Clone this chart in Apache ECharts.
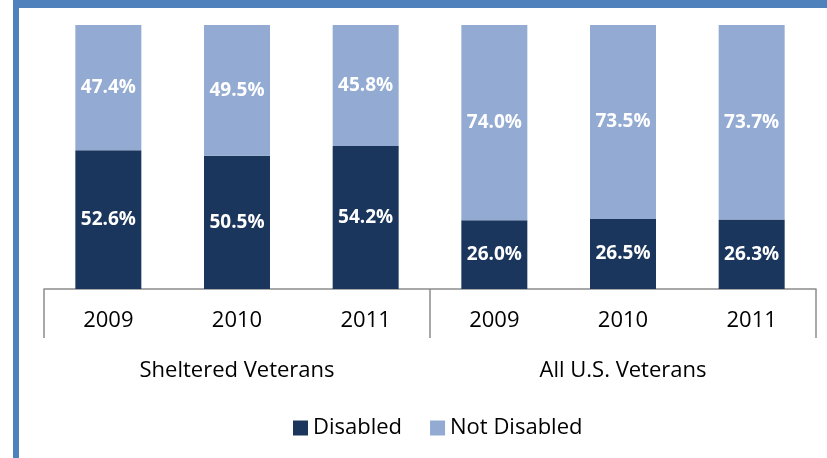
<!DOCTYPE html>
<html>
<head>
<meta charset="utf-8">
<script src="https://cdn.jsdelivr.net/npm/echarts@6/dist/echarts.min.js"></script>
<style>
  html, body { margin: 0; padding: 0; background: #fff; }
  #frame { position: absolute; left: 13px; top: 0; width: 814px; height: 458px;
    border-top: 8px solid #4F81BD; border-left: 6px solid #4F81BD; box-sizing: border-box; }
  #chart { position: absolute; left: 0; top: 0; width: 827px; height: 458px; }
</style>
</head>
<body>
<div id="frame"></div>
<div id="chart"></div>
<script>
// years under each bar, and the two groups they belong to
const years = ['2009', '2010', '2011', '2009', '2010', '2011']
const groups = ['Sheltered Veterans', 'All U.S. Veterans']

// percent of veterans
const disabled = [52.6, 50.5, 54.2, 26.0, 26.5, 26.3]
const notDisabled = [47.4, 49.5, 45.8, 74.0, 73.5, 73.7]

const font = 'Open Sans'

const chart = echarts.init(document.getElementById('chart'))

const barLabel = {
  show: true,
  position: 'inside',
  color: '#fff',
  fontFamily: font,
  fontWeight: 'bold',
  fontSize: 19,
  formatter: p => p.value.toFixed(1) + '%'
}

chart.setOption({
  animation: false,
  color: ['#1B365D', '#93ABD3'],
  grid: { left: 44, right: 11, top: 25, bottom: 169 },
  legend: {
    left: 288,
    top: 412,
    itemWidth: 15,
    itemHeight: 15,
    itemGap: 28,
    icon: 'rect',
    textStyle: { fontFamily: font, fontSize: 22, color: '#000' },
    data: ['Disabled', 'Not Disabled']
  },
  xAxis: [
    {
      type: 'category',
      data: years,
      axisLine: { show: false },
      axisTick: { show: false },
      axisLabel: { margin: 21, fontFamily: font, fontSize: 22, color: '#000' }
    },
    {
      type: 'category',
      data: groups,
      position: 'bottom',
      axisLine: { show: true, lineStyle: { color: '#8c8c8c', width: 1.5 } },
      axisTick: { show: true, length: 49, lineStyle: { color: '#8c8c8c', width: 1.5 } },
      axisLabel: { margin: 71, fontFamily: font, fontSize: 22, color: '#000' }
    }
  ],
  yAxis: { type: 'value', min: 0, max: 100, show: false },
  series: [
    {
      name: 'Disabled',
      type: 'bar',
      stack: 'total',
      barWidth: 66,
      data: disabled,
      label: barLabel
    },
    {
      name: 'Not Disabled',
      type: 'bar',
      stack: 'total',
      barWidth: 66,
      data: notDisabled,
      label: barLabel
    }
  ]
})
</script>
</body>
</html>
